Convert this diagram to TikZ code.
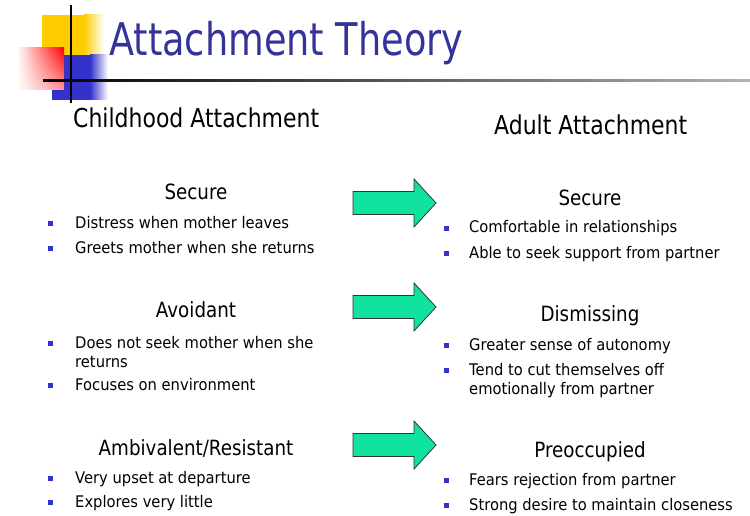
\documentclass[tikz,border=0pt]{standalone}
\usepackage{fontspec}
\setmainfont{DejaVu Sans}
\newfontfamily\bodyfont[FakeStretch=0.92]{DejaVu Sans}
\newfontfamily\headfont[FakeStretch=0.87]{DejaVu Sans}
\newfontfamily\colfont[FakeStretch=0.845]{DejaVu Sans}
\newfontfamily\titlefont[FakeStretch=0.815]{DejaVu Sans}
\usetikzlibrary{fadings}
\definecolor{titleblue}{RGB}{51,51,153}
\definecolor{bulletblue}{RGB}{51,51,204}
\definecolor{arrowgreen}{RGB}{16,226,160}
\definecolor{decoyellow}{RGB}{255,204,0}
\definecolor{decoblue}{RGB}{51,51,204}
\tikzset{
  txt/.style={inner sep=0pt, anchor=base west, font=\bodyfont\fontsize{16}{19}\selectfont},
  head/.style={inner sep=0pt, anchor=base, font=\headfont\fontsize{21}{25}\selectfont},
  colhead/.style={inner sep=0pt, anchor=base west, font=\colfont\fontsize{26}{30}\selectfont},
  bul/.style={fill=bulletblue, minimum size=5pt, inner sep=0pt, draw=none},
  bigarrow/.style={fill=arrowgreen, draw=black!80, line width=0.8pt, line join=miter},
}
\begin{document}
\begin{tikzpicture}[x=1pt,y=-1pt]
\useasboundingbox (0,0) rectangle (750,516);
\fill[white] (0,0) rectangle (750,516);
% decoration
\fill[decoyellow] (42,15) rectangle (84,56);
\shade[left color=decoyellow, right color=white] (84,15) rectangle (104,56);
\fill[decoblue] (52,55) rectangle (90,100);
\shade[left color=decoblue, right color=white] (90,55) rectangle (108,100);
\shade[left color=white, right color=red] (17,48) rectangle (64,90);
\fill[white, path fading=north, opacity=0.6] (17,48) rectangle (64,90);
\fill[black] (70,5) rectangle (72,103);
\shade[left color=black, right color=black!30] (43,80) rectangle (750,82);
% title
\node[inner sep=0pt, anchor=base west, text=titleblue, font=\titlefont\fontsize{45}{50}\selectfont] (title) at (109,56) {Attachment Theory};
% column headers
\node[colhead] (childh) at (73,128) {Childhood Attachment};
\node[colhead] (adulth) at (494,135) {Adult Attachment};
% left column
\node[head] (ls) at (196,200) {Secure};
\node[bul] (lb1) at (50,223) {}; \node[txt] (l1) at (75,228) {Distress when mother leaves};
\node[bul] (lb2) at (50,248) {}; \node[txt] (l2) at (75,253) {Greets mother when she returns};
\node[head] (la) at (196,317) {Avoidant};
\node[bul] (lb3) at (50,343) {}; \node[txt] (l3) at (75,348) {Does not seek mother when she};
\node[txt] (l3b) at (75,367) {returns};
\node[bul] (lb4) at (50,385) {}; \node[txt] (l4) at (75,390) {Focuses on environment};
\node[head] (lr) at (196,455) {Ambivalent/Resistant};
\node[bul] (lb5) at (50,478) {}; \node[txt] (l5) at (75,483) {Very upset at departure};
\node[bul] (lb6) at (50,502) {}; \node[txt] (l6) at (75,507) {Explores very little};
% right column
\node[head] (rs) at (590,205) {Secure};
\node[bul] (rb1) at (446,228) {}; \node[txt] (r1) at (469,233) {Comfortable in relationships};
\node[bul] (rb2) at (446,253) {}; \node[txt] (r2) at (469,258) {Able to seek support from partner};
\node[head] (rd) at (590,321) {Dismissing};
\node[bul] (rb3) at (446,345) {}; \node[txt] (r3) at (469,350) {Greater sense of autonomy};
\node[bul] (rb4) at (446,370) {}; \node[txt] (r4) at (469,375) {Tend to cut themselves off};
\node[txt] (r4b) at (469,394) {emotionally from partner};
\node[head] (rp) at (590,457) {Preoccupied};
\node[bul] (rb5) at (446,480) {}; \node[txt] (r5) at (469,485) {Fears rejection from partner};
\node[bul] (rb6) at (446,505) {}; \node[txt] (r6) at (469,510) {Strong desire to maintain closeness};
% arrows
\foreach \c in {203,307,445}{
  \draw[bigarrow] (353,\c-11.5) -- (414,\c-11.5) -- (414,\c-24) -- (436,\c) -- (414,\c+24) -- (414,\c+11.5) -- (353,\c+11.5) -- cycle;
}
\end{tikzpicture}
\end{document}
